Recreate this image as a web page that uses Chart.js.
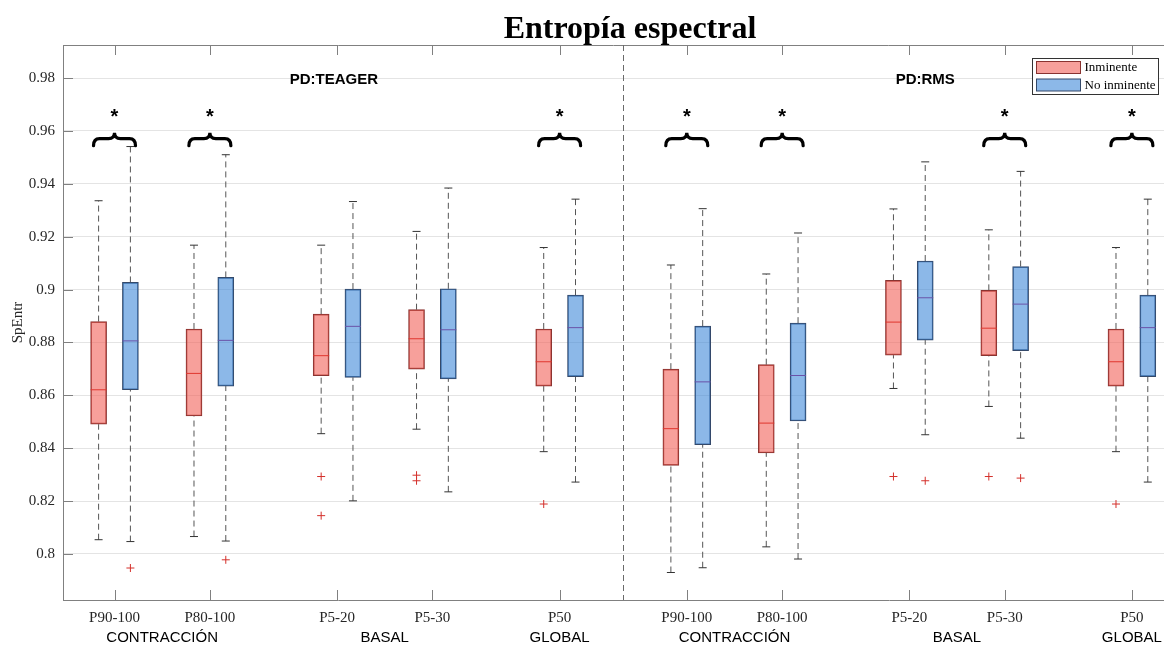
<!DOCTYPE html>
<html>
<head>
<meta charset="utf-8">
<title>Entropía espectral</title>
<script src="https://cdn.jsdelivr.net/npm/chart.js@4.4.1/dist/chart.umd.min.js"></script>
<style>
    body { margin: 0; background: #fff; }
    #wrap { width: 1164px; height: 649px; }
</style>
</head>
<body>
<div id="wrap"><canvas id="chart" width="1164" height="649"></canvas></div>
<script>
// categories (x ticks) and their positions on the MATLAB-style x axis
const categories = ['P90-100', 'P80-100', 'P5-20', 'P5-30', 'P50', 'P90-100', 'P80-100', 'P5-20', 'P5-30', 'P50'];
const tickPos = [1.5, 4.5, 8.5, 11.5, 15.5, 19.5, 22.5, 26.5, 29.5, 33.5];
const groupNames = ['CONTRACCIÓN', 'BASAL', 'GLOBAL', 'CONTRACCIÓN', 'BASAL', 'GLOBAL'];
const groupPos = [3, 10, 15.5, 21, 28, 33.5];
const yTicks = [0.8, 0.82, 0.84, 0.86, 0.88, 0.9, 0.92, 0.94, 0.96, 0.98];

// Inminente
const maxI = [0.9336, 0.9168, 0.9168, 0.9220, 0.9159, 0.9093, 0.9059, 0.9305, 0.9226, 0.9159];
const q3I  = [0.8879, 0.8851, 0.8907, 0.8924, 0.8851, 0.8699, 0.8716, 0.9035, 0.8997, 0.8851];
const medI = [0.8621, 0.8683, 0.8750, 0.8814, 0.8727, 0.8474, 0.8495, 0.8877, 0.8854, 0.8727];
const q1I  = [0.8491, 0.8522, 0.8674, 0.8699, 0.8635, 0.8335, 0.8382, 0.8752, 0.8750, 0.8635];
const minI = [0.8054, 0.8066, 0.8455, 0.8472, 0.8387, 0.7930, 0.8027, 0.8626, 0.8558, 0.8387];
const outI = [[], [], [0.8293, 0.8145], [0.8298, 0.8277], [0.8189], [], [], [0.8293], [0.8293], [0.8189]];

// No inminente
const maxN = [0.9541, 0.9510, 0.9333, 0.9384, 0.9342, 0.9306, 0.9214, 0.9483, 0.9447, 0.9342];
const q3N  = [0.9027, 0.9046, 0.9002, 0.9003, 0.8979, 0.8862, 0.8873, 0.9108, 0.9087, 0.8979];
const medN = [0.8806, 0.8808, 0.8861, 0.8848, 0.8856, 0.8651, 0.8675, 0.8969, 0.8945, 0.8856];
const q1N  = [0.8621, 0.8635, 0.8668, 0.8662, 0.8671, 0.8413, 0.8503, 0.8809, 0.8769, 0.8671];
const minN = [0.8047, 0.8049, 0.8201, 0.8235, 0.8272, 0.7948, 0.7981, 0.8451, 0.8438, 0.8272];
const outN = [[0.7947], [0.7978], [], [], [], [], [], [0.8277], [0.8287], []];

// significance marks (brace + asterisk)
const sig = [1, 1, 0, 0, 1, 1, 1, 0, 1, 1];
const braceTop = 0.9593, braceBottom = 0.9544, starY = 0.966;
const panels = [{text: 'PD:TEAGER', x: 8.4}, {text: 'PD:RMS', x: 27.0}];
const panelY = 0.9793;
const divider = 17.5;

const RED_FILL = 'rgba(242, 97, 88, 0.6)';
const BLUE_FILL = 'rgba(63, 137, 217, 0.6)';
const RED_EDGE = '#8a3330';
const BLUE_EDGE = '#34496a';
const SERIF = '"Liberation Serif", "Times New Roman", serif';
const SANS = '"Liberation Sans Narrow", "Liberation Sans", Arial, sans-serif';

const off = 0.5;

let boxData = (q1, q3, d) => categories.map((c, i) => ({x: tickPos[i] + d, y: [q1[i], q3[i]]}));
let pointData = (vals, d) => categories.map((c, i) => ({x: tickPos[i] + d, y: vals[i]}));
let capData = (lo, hi, d) => categories.flatMap((c, i) => [{x: tickPos[i] + d, y: lo[i]}, {x: tickPos[i] + d, y: hi[i]}]);
let outData = (outs, d) => categories.flatMap((c, i) => outs[i].map(v => ({x: tickPos[i] + d, y: v})));
let whiskerData = (q1, q3, lo, hi, d) => {
    let arr = [];
    categories.forEach((c, i) => {
        let p = tickPos[i] + d;
        arr.push({x: p, y: lo[i]}, {x: p, y: q1[i]}, {x: p, y: null});
        arr.push({x: p, y: q3[i]}, {x: p, y: hi[i]}, {x: p, y: null});
    });
    return arr;
};

let boxSet = (label, q1, q3, d, fill, edge) => ({
    type: 'bar', label: label, data: boxData(q1, q3, d),
    backgroundColor: fill, borderColor: edge, borderWidth: 1,
    borderSkipped: false, barThickness: 16, grouped: false, order: 5
});
let whiskerSet = (q1, q3, lo, hi, d) => ({
    type: 'line', data: whiskerData(q1, q3, lo, hi, d),
    borderColor: '#555555', borderWidth: 1, borderDash: [6, 4],
    pointRadius: 0, spanGaps: false, fill: false, order: 6
});
let markSet = (data, style, r, color) => ({
    type: 'scatter', data: data, pointStyle: style, pointRadius: r,
    pointHoverRadius: r, borderColor: color, borderWidth: 1,
    backgroundColor: color, order: 1
});

// Extra drawing: title, frame ticks, divider, braces, labels, legend
const overlay = {
    id: 'overlay',
    afterDraw(chart) {
        const {ctx, chartArea: a, scales: {x, y}} = chart;
        ctx.save();

        ctx.fillStyle = '#000';
        ctx.font = 'bold 32px ' + SERIF;
        ctx.textAlign = 'center';
        ctx.textBaseline = 'alphabetic';
        ctx.fillText('Entropía espectral', 630, 38);

        // frame + inner ticks
        ctx.strokeStyle = '#808080';
        ctx.lineWidth = 1;
        ctx.beginPath();
        ctx.moveTo(a.left, a.top + 0.5);
        ctx.lineTo(a.right, a.top + 0.5);
        tickPos.forEach(t => {
            let px = Math.round(x.getPixelForValue(t)) + 0.5;
            ctx.moveTo(px, a.top);
            ctx.lineTo(px, a.top + 10);
            ctx.moveTo(px, a.bottom);
            ctx.lineTo(px, a.bottom - 10);
        });
        yTicks.forEach(v => {
            let py = Math.round(y.getPixelForValue(v)) + 0.5;
            ctx.moveTo(a.left, py);
            ctx.lineTo(a.left + 10, py);
        });
        ctx.stroke();

        // dashed divider
        let dx = Math.round(x.getPixelForValue(divider)) + 0.5;
        ctx.strokeStyle = '#6a6a6a';
        ctx.setLineDash([6, 4]);
        ctx.beginPath();
        ctx.moveTo(dx, a.top);
        ctx.lineTo(dx, a.bottom);
        ctx.stroke();
        ctx.setLineDash([]);

        // braces + asterisks
        let yt = y.getPixelForValue(braceTop);
        let yb = y.getPixelForValue(braceBottom);
        let ym = yt + (yb - yt) * 0.45;
        ctx.strokeStyle = '#000';
        ctx.lineWidth = 3.2;
        ctx.lineCap = 'round';
        ctx.font = 'bold 20px Arial, "Liberation Sans", sans-serif';
        ctx.textAlign = 'center';
        sig.forEach((s, i) => {
            if (!s) return;
            let xc = x.getPixelForValue(tickPos[i]);
            let half = x.getPixelForValue(tickPos[i] + 0.66) - xc;
            let x0 = xc - half, x1 = xc + half;
            ctx.beginPath();
            ctx.moveTo(x0, yb);
            ctx.quadraticCurveTo(x0, ym, x0 + 6, ym);
            ctx.lineTo(xc - 6, ym);
            ctx.quadraticCurveTo(xc, ym, xc, yt);
            ctx.quadraticCurveTo(xc, ym, xc + 6, ym);
            ctx.lineTo(x1 - 6, ym);
            ctx.quadraticCurveTo(x1, ym, x1, yb);
            ctx.stroke();
            ctx.fillText('*', xc, y.getPixelForValue(starY) + 8);
        });

        // panel labels
        ctx.font = 'bold 15px Arial, "Liberation Sans", sans-serif';
        ctx.textBaseline = 'middle';
        panels.forEach(p => {
            ctx.fillText(p.text, x.getPixelForValue(p.x), y.getPixelForValue(panelY));
        });

        // group labels under the axis
        ctx.font = '15px ' + SANS;
        groupNames.forEach((g, i) => {
            ctx.fillText(g, x.getPixelForValue(groupPos[i]), a.bottom + 38);
        });

        // legend
        let lx = a.right - 131.5, ly = 58.5;
        ctx.fillStyle = '#fff';
        ctx.fillRect(lx, ly, 126, 36);
        ctx.strokeStyle = '#333';
        ctx.lineWidth = 1;
        ctx.strokeRect(lx, ly, 126, 36);
        [[RED_FILL, RED_EDGE, 'Inminente'], [BLUE_FILL, BLUE_EDGE, 'No inminente']].forEach((e, k) => {
            let sy = ly + 3 + k * 17.5;
            ctx.fillStyle = e[0];
            ctx.fillRect(lx + 4, sy, 44, 12);
            ctx.strokeStyle = e[1];
            ctx.strokeRect(lx + 4, sy, 44, 12);
            ctx.fillStyle = '#000';
            ctx.font = '13px ' + SERIF;
            ctx.textAlign = 'left';
            ctx.fillText(e[2], lx + 52, sy + 6.5);
        });

        ctx.restore();
    }
};

new Chart(document.getElementById('chart'), {
    type: 'bar',
    data: {
        datasets: [
            boxSet('Inminente', q1I, q3I, -off, RED_FILL, RED_EDGE),
            boxSet('No inminente', q1N, q3N, off, BLUE_FILL, BLUE_EDGE),
            whiskerSet(q1I, q3I, minI, maxI, -off),
            whiskerSet(q1N, q3N, minN, maxN, off),
            markSet(capData(minI, maxI, -off), 'line', 4, '#333'),
            markSet(capData(minN, maxN, off), 'line', 4, '#333'),
            markSet(pointData(medI, -off), 'line', 8, '#e0362e'),
            markSet(pointData(medN, off), 'line', 8, '#6a52a8'),
            markSet(outData(outI, -off), 'cross', 4, '#d4302b'),
            markSet(outData(outN, off), 'cross', 4, '#d4302b')
        ]
    },
    options: {
        responsive: false,
        animation: false,
        layout: { autoPadding: false, padding: { top: 45, right: 0, left: 0, bottom: 0 } },
        plugins: {
            legend: { display: false },
            tooltip: { enabled: false },
            title: { display: false }
        },
        scales: {
            x: {
                type: 'linear',
                min: -0.12,
                max: 34.51,
                offset: false,
                grid: { display: false, offset: false },
                border: { display: true, color: '#808080' },
                afterBuildTicks: s => { s.ticks = tickPos.map(v => ({value: v})); },
                afterFit: s => { s.height = 49; s.paddingLeft = 0; s.paddingRight = 0; },
                ticks: {
                    autoSkip: false,
                    maxRotation: 0,
                    padding: 1,
                    color: '#262626',
                    font: { family: SERIF, size: 15 },
                    callback: v => {
                        let i = tickPos.indexOf(v);
                        return i >= 0 ? categories[i] : '';
                    }
                }
            },
            y: {
                type: 'linear',
                min: 0.7826,
                max: 0.9925,
                grid: { color: '#e4e4e4', drawTicks: false },
                border: { display: true, color: '#808080' },
                afterBuildTicks: s => { s.ticks = yTicks.map(v => ({value: v})); },
                afterFit: s => { s.width = 63; s.paddingTop = 0; s.paddingBottom = 0; },
                title: {
                    display: true,
                    text: 'SpEntr',
                    color: '#262626',
                    font: { family: SERIF, size: 15 },
                    padding: { top: 9, bottom: 0 }
                },
                ticks: {
                    padding: 8,
                    color: '#262626',
                    font: { family: SERIF, size: 15 },
                    callback: v => String(parseFloat(v.toFixed(2)))
                }
            }
        }
    },
    plugins: [overlay]
});
</script>
</body>
</html>
